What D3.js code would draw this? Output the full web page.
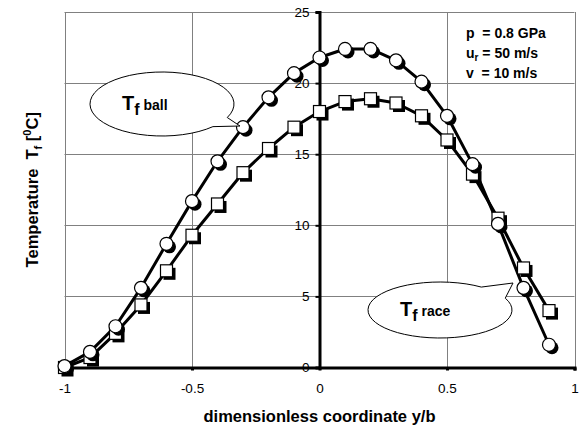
<!DOCTYPE html>
<html>
<head>
<meta charset="utf-8">
<script src="https://cdn.jsdelivr.net/npm/d3@7"></script>
<style>
  body { margin: 0; background: #fff; }
  svg { font-family: "Liberation Sans", Arial, sans-serif; }
</style>
</head>
<body>
<div id="chart"></div>
<script>
// ─── DATA ─────────────────────────────────────────────
const coordY = [-1, -0.9, -0.8, -0.7, -0.6, -0.5, -0.4, -0.3, -0.2, -0.1,
                0, 0.1, 0.2, 0.3, 0.4, 0.5, 0.6, 0.7, 0.8, 0.9];
const tBall = [0.1, 1.1, 2.9, 5.6, 8.7, 11.7, 14.5, 16.9, 19.0, 20.7,
               21.8, 22.4, 22.4, 21.6, 20.1, 17.7, 14.3, 10.1, 5.6, 1.6];
const tRace = [0.0, 0.7, 2.4, 4.4, 6.8, 9.3, 11.5, 13.7, 15.4, 16.9,
               18.0, 18.7, 18.9, 18.6, 17.7, 16.0, 13.6, 10.5, 7.0, 4.0];
const xTicks = [-1, -0.5, 0, 0.5, 1];
const yTicks = [0, 5, 10, 15, 20, 25];
const NB = "\u00a0";
const params = [["p", "", NB + NB + "= 0.8 GPa"], ["u", "r", NB + "= 50 m/s"], ["v", "", NB + NB + "= 10 m/s"]];

const width = 580, height = 427;
const plot = { left: 64.5, right: 574.5, top: 12, bottom: 367.5 };

const svg = d3.select("#chart").append("svg")
    .attr("width", width)
    .attr("height", height);

const x = d3.scaleLinear().domain([-1, 1]).range([plot.left, plot.right]);
const y = d3.scaleLinear().domain([0, 25]).range([plot.bottom, plot.top]);

// ─── GRID + FRAME ─────────────────────────────────────
const grid = svg.append("g").attr("stroke", "#808080").attr("stroke-width", 1);
grid.selectAll("line.h").data(yTicks.filter(d => d > 0)).enter().append("line")
    .attr("x1", plot.left).attr("x2", plot.right)
    .attr("y1", d => Math.round(y(d)) + 0.5).attr("y2", d => Math.round(y(d)) + 0.5);
grid.selectAll("line.v").data(xTicks.filter(d => d !== 0)).enter().append("line")
    .attr("y1", plot.top).attr("y2", plot.bottom)
    .attr("x1", d => Math.round(x(d)) + 0.5).attr("x2", d => Math.round(x(d)) + 0.5);

// ─── AXES ─────────────────────────────────────────────
const xAxis = svg.append("g")
    .attr("transform", `translate(0,${y(0)})`)
    .call(d3.axisBottom(x).tickValues(xTicks).tickSize(3).tickPadding(13)
        .tickFormat(d => d));
xAxis.select(".domain").attr("stroke", "#000").attr("stroke-width", 3);
xAxis.selectAll(".tick line").attr("stroke", "#000").attr("stroke-width", 3);
xAxis.selectAll("text").attr("font-size", 13.5).attr("fill", "#000")
    .attr("font-family", "Liberation Sans, Arial, sans-serif");

const yAxis = svg.append("g")
    .attr("transform", `translate(${x(0)},0)`)
    .call(d3.axisLeft(y).tickValues(yTicks).tickSize(4).tickPadding(6));
yAxis.select(".domain").attr("stroke", "#000").attr("stroke-width", 3);
yAxis.selectAll(".tick line").attr("stroke", "#000").attr("stroke-width", 2);
yAxis.selectAll("text").attr("font-size", 13.5).attr("fill", "#000")
    .attr("font-family", "Liberation Sans, Arial, sans-serif");

// ─── SERIES ───────────────────────────────────────────
const line = d3.line().x(d => x(d[0])).y(d => y(d[1]));
const ballPts = coordY.map((c, i) => [c, tBall[i]]);
const racePts = coordY.map((c, i) => [c, tRace[i]]);

[racePts, ballPts].forEach(pts => {
  svg.append("path").datum(pts)
      .attr("d", line)
      .attr("fill", "none")
      .attr("stroke", "#000")
      .attr("stroke-width", 3)
      .attr("stroke-linejoin", "round");
});

const sh = 3;  // marker shadow offset
const sq = 12;
svg.append("g").selectAll("rect").data(racePts).enter().append("rect")
    .attr("x", d => x(d[0]) - sq / 2 + sh).attr("y", d => y(d[1]) - sq / 2 + sh)
    .attr("width", sq).attr("height", sq).attr("fill", "#000");
svg.append("g").selectAll("rect").data(racePts).enter().append("rect")
    .attr("x", d => x(d[0]) - sq / 2).attr("y", d => y(d[1]) - sq / 2)
    .attr("width", sq).attr("height", sq)
    .attr("fill", "#fff").attr("stroke", "#000").attr("stroke-width", 1.2);

svg.append("g").selectAll("circle").data(ballPts).enter().append("circle")
    .attr("cx", d => x(d[0]) + sh).attr("cy", d => y(d[1]) + sh)
    .attr("r", 6.5).attr("fill", "#000");
svg.append("g").selectAll("circle").data(ballPts).enter().append("circle")
    .attr("cx", d => x(d[0])).attr("cy", d => y(d[1]))
    .attr("r", 6.5)
    .attr("fill", "#fff").attr("stroke", "#000").attr("stroke-width", 1.2);

// ─── CALLOUTS ─────────────────────────────────────────
function callout(cx, cy, rx, ry, a1, a2, tip, label) {
  const p = a => [cx + rx * Math.cos(a * Math.PI / 180), cy + ry * Math.sin(a * Math.PI / 180)];
  const A = p(a1), B = p(a2);
  const g = svg.append("g");
  g.append("path")
      .attr("d", `M${A} A${rx},${ry} 0 1 1 ${B} L${tip} Z`)
      .attr("fill", "#fff").attr("stroke", "#000").attr("stroke-width", 1);
  const t = g.append("text")
      .attr("x", cx - 40).attr("y", cy + 6)
      .attr("font-weight", "bold").attr("fill", "#000");
  t.append("tspan").attr("font-size", 20).text("T");
  t.append("tspan").attr("font-size", 16).attr("dy", 5).text("f");
  t.append("tspan").attr("font-size", 14).attr("dy", -5).text(NB + label);
}
callout(162, 104, 72, 32, 45, 25, [240, 126], "ball");
callout(440, 310, 72, 28, -25, -55, [513, 283], "race");

// ─── PARAMETER TEXT ───────────────────────────────────
const pt = svg.append("g").attr("font-size", 14).attr("font-weight", "bold");
params.forEach((r, i) => {
  const t = pt.append("text").attr("x", 466).attr("y", 38 + i * 20);
  t.append("tspan").text(r[0]);
  if (r[1]) t.append("tspan").attr("font-size", 10).attr("dy", 3).text(r[1]);
  t.append("tspan").attr("dy", r[1] ? -3 : 0).text(r[2]);
});

// ─── AXIS TITLES ──────────────────────────────────────
svg.append("text")
    .attr("x", x(0)).attr("y", 422)
    .attr("text-anchor", "middle")
    .attr("font-size", 16.5).attr("font-weight", "bold")
    .text("dimensionless coordinate y/b");

const yt = svg.append("text")
    .attr("transform", `translate(38,${(plot.top + plot.bottom) / 2}) rotate(-90)`)
    .attr("text-anchor", "middle")
    .attr("font-size", 16.5).attr("font-weight", "bold");
yt.append("tspan").text("Temperature" + NB + NB + "T");
yt.append("tspan").attr("font-size", 11).attr("dy", 4).text("f");
yt.append("tspan").attr("dy", -4).text(NB + "[");
yt.append("tspan").attr("font-size", 11).attr("dy", -7).text("0");
yt.append("tspan").attr("dy", 7).text("C]");
</script>
</body>
</html>
